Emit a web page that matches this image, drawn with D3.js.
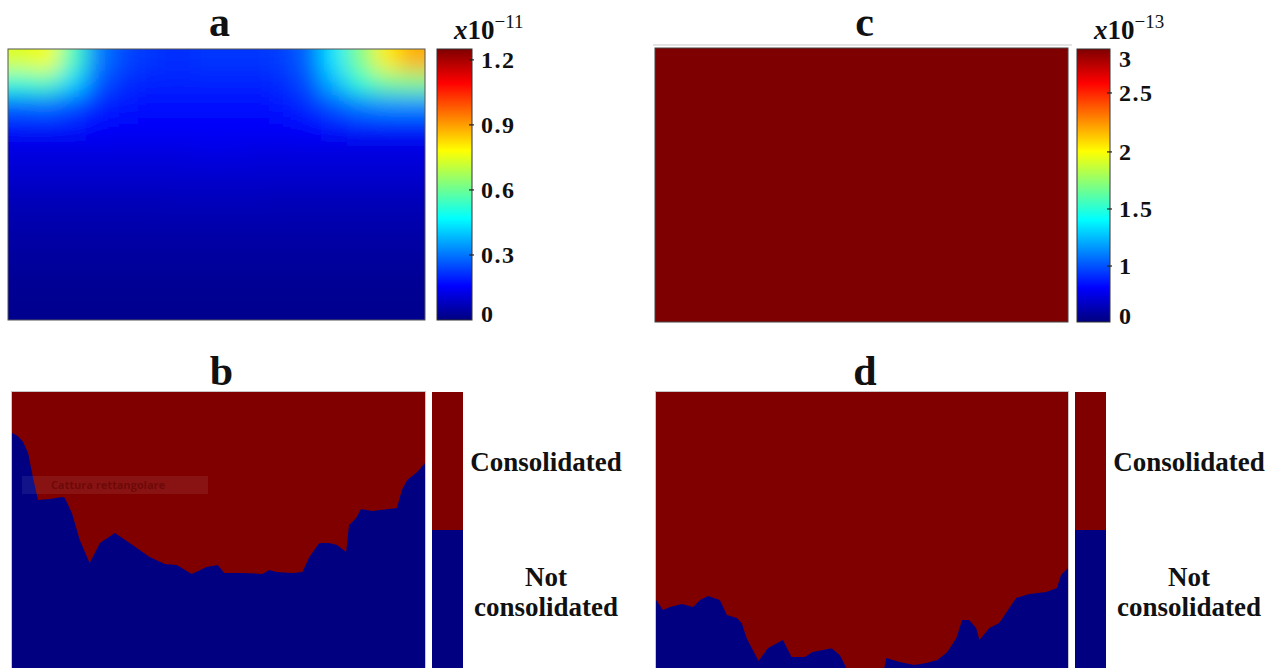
<!DOCTYPE html>
<html>
<head>
<meta charset="utf-8">
<script src="https://cdn.jsdelivr.net/npm/d3@7"></script>
<style>
  body { margin: 0; background: #fff; }
  svg text { font-family: "Liberation Serif", "DejaVu Serif", serif; font-weight: bold; fill: #111; }
</style>
</head>
<body>
<script>
// ---- data ----
// panel a: field values (x1e-11), rows top -> bottom, columns left -> right
const aGrid = [
  [0.74, 0.77, 0.55, 0.31, 0.24, 0.22, 0.21, 0.22, 0.22, 0.22, 0.23, 0.28, 0.44, 0.62, 0.80, 0.88],
  [0.52, 0.55, 0.42, 0.26, 0.21, 0.20, 0.20, 0.20, 0.20, 0.20, 0.21, 0.25, 0.38, 0.52, 0.60, 0.62],
  [0.28, 0.29, 0.25, 0.20, 0.18, 0.17, 0.17, 0.17, 0.17, 0.17, 0.18, 0.21, 0.26, 0.31, 0.33, 0.33],
  [0.17, 0.17, 0.17, 0.16, 0.15, 0.15, 0.15, 0.15, 0.15, 0.15, 0.15, 0.16, 0.17, 0.18, 0.18, 0.18],
  [0.12, 0.12, 0.12, 0.12, 0.12, 0.12, 0.12, 0.125, 0.125, 0.12, 0.12, 0.12, 0.12, 0.12, 0.12, 0.12],
  [0.10, 0.10, 0.10, 0.10, 0.10, 0.10, 0.10, 0.10, 0.10, 0.10, 0.10, 0.10, 0.10, 0.10, 0.10, 0.10],
  [0.075, 0.075, 0.075, 0.075, 0.075, 0.075, 0.078, 0.078, 0.078, 0.078, 0.075, 0.075, 0.075, 0.075, 0.075, 0.075],
  [0.06, 0.06, 0.06, 0.06, 0.06, 0.06, 0.06, 0.06, 0.06, 0.06, 0.06, 0.06, 0.06, 0.06, 0.06, 0.06],
  [0.045, 0.045, 0.045, 0.045, 0.045, 0.045, 0.045, 0.045, 0.045, 0.045, 0.045, 0.045, 0.045, 0.045, 0.045, 0.045],
  [0.035, 0.035, 0.035, 0.035, 0.035, 0.035, 0.035, 0.035, 0.035, 0.035, 0.035, 0.035, 0.035, 0.035, 0.035, 0.035],
  [0.025, 0.025, 0.025, 0.025, 0.025, 0.025, 0.025, 0.025, 0.025, 0.025, 0.025, 0.025, 0.025, 0.025, 0.025, 0.025],
  [0.02, 0.02, 0.02, 0.02, 0.02, 0.02, 0.02, 0.02, 0.02, 0.02, 0.02, 0.02, 0.02, 0.02, 0.02, 0.02]
];
const aTicks = [0, 0.3, 0.6, 0.9, 1.2];
const aMax = 1.25;

// panel c: uniform value (x1e-13)
const cValue = 3;
const cTicks = [0, 1, 1.5, 2, 2.5, 3];

// panels b, d: boundary between consolidated (above) and not consolidated (below)
// x in % of width, depth in % of height
const bX     = [0, 1.4, 2.7, 3.9, 5.1, 6.3, 9.2, 12.1, 12.8, 14.5, 16.4, 18.8, 21.3, 24.9, 29.2, 33.3, 37.0, 39.9, 43.5, 47.1, 49.8, 51.4, 55.8, 60.6, 62.3, 64.0, 67.9, 70.3, 72.0, 74.4, 76.8, 78.7, 80.9, 81.6, 83.3, 84.5, 87.2, 91.3, 93.2, 94.4, 95.7, 98.1, 100];
const bDepth = [14.9, 15.9, 18.1, 22.1, 31.2, 39.1, 38.8, 38.0, 38.4, 43.8, 53.6, 62.0, 54.7, 51.1, 55.4, 59.8, 62.3, 62.7, 65.9, 63.4, 62.7, 65.6, 65.6, 65.9, 64.5, 65.2, 65.6, 65.2, 59.8, 54.7, 54.7, 55.4, 58.0, 48.2, 45.7, 42.4, 43.1, 42.4, 42.0, 35.5, 31.9, 29.0, 25.7];

const dX     = [0, 1.7, 3.4, 6.3, 9.0, 10.7, 12.6, 15.5, 17.2, 19.6, 20.8, 22.0, 23.5, 24.9, 27.1, 30.8, 32.9, 36.1, 38.0, 42.6, 44.6, 46.2, 55.4, 55.9, 59.1, 62.7, 65.6, 68.3, 70.7, 72.9, 74.3, 76.0, 77.7, 78.5, 80.9, 83.3, 87.4, 90.6, 94.7, 97.3, 98.3, 100];
const dDepth = [75.4, 79.0, 77.9, 76.8, 77.9, 75.4, 73.9, 75.4, 80.8, 81.9, 83.7, 89.1, 93.5, 97.5, 92.8, 89.9, 96.0, 96.0, 94.2, 92.8, 95.3, 100, 100, 96.4, 97.8, 98.9, 98.2, 97.1, 94.2, 89.1, 82.6, 82.6, 85.5, 89.9, 85.5, 83.7, 74.6, 73.2, 72.5, 71.0, 66.3, 63.8];

const states = ["Consolidated", "Not consolidated"];
const titles = ["a", "b", "c", "d"];

// ---- drawing ----
const W = 1283, H = 668;
const jetStops = [0, 0.125, 0.375, 0.625, 0.875, 1];
const jetColors = ["#00007f", "#0000ff", "#00ffff", "#ffff00", "#ff0000", "#7f0000"];
const jet = d3.scaleLinear().domain(jetStops).range(jetColors).clamp(true);
const stateColor = d3.scaleOrdinal().domain(states).range(["#800000", "#000080"]);

const svg = d3.select("body").append("svg")
  .attr("width", W).attr("height", H);
const defs = svg.append("defs");

const grad = defs.append("linearGradient").attr("id", "jetGrad")
  .attr("x1", 0).attr("y1", 1).attr("x2", 0).attr("y2", 0);
jetStops.forEach((s, i) => grad.append("stop").attr("offset", s).attr("stop-color", jetColors[i]));

// --- panel a (heatmap) ---
const A = {x: 8, y: 49, w: 417, h: 271};
defs.append("clipPath").attr("id", "clipA").append("rect")
  .attr("x", A.x).attr("y", A.y).attr("width", A.w).attr("height", A.h);
defs.append("filter").attr("id", "blurA")
  .attr("filterUnits", "userSpaceOnUse")
  .attr("x", A.x - 60).attr("y", A.y - 60).attr("width", A.w + 120).attr("height", A.h + 120)
  .append("feGaussianBlur").attr("stdDeviation", 11);

const nRow = aGrid.length, nCol = aGrid[0].length;
const ax = d3.scaleBand().domain(d3.range(nCol)).range([A.x, A.x + A.w]);
const ay = d3.scaleBand().domain(d3.range(nRow)).range([A.y, A.y + A.h]);
const aColor = v => jet(v / aMax);
const pad = 40;

const cells = [];
aGrid.forEach((row, r) => row.forEach((v, c) => cells.push({r, c, v})));
svg.append("g").attr("clip-path", "url(#clipA)")
  .append("g").attr("filter", "url(#blurA)")
  .selectAll("rect").data(cells).enter().append("rect")
  .attr("x", d => ax(d.c) - (d.c === 0 ? pad : 0))
  .attr("y", d => ay(d.r) - (d.r === 0 ? pad : 0))
  .attr("width", d => ax.bandwidth() + 0.6 + (d.c === 0 || d.c === nCol - 1 ? pad : 0))
  .attr("height", d => ay.bandwidth() + 0.6 + (d.r === 0 || d.r === nRow - 1 ? pad : 0))
  .attr("fill", d => aColor(d.v));
svg.append("rect").attr("x", A.x).attr("y", A.y).attr("width", A.w).attr("height", A.h)
  .attr("fill", "none").attr("stroke", "#555").attr("stroke-width", 1);

function colorbar(cb, scale, ticks, labels, expo) {
  svg.append("rect").attr("x", cb.x).attr("y", cb.y).attr("width", cb.w).attr("height", cb.h)
    .attr("fill", "url(#jetGrad)").attr("stroke", "#333").attr("stroke-width", 1);
  const inner = ticks.filter(t => scale(t) > cb.y + 3 && scale(t) < cb.y + cb.h - 3);
  svg.append("g").selectAll("line").data(inner).enter().append("line")
    .attr("x1", cb.x + cb.w - 3).attr("x2", cb.x + cb.w + 2)
    .attr("y1", d => scale(d)).attr("y2", d => scale(d))
    .attr("stroke", "#222").attr("stroke-width", 1.2);
  svg.append("g").selectAll("text").data(ticks).enter().append("text")
    .attr("x", cb.x + cb.w + 9)
    .attr("y", d => Math.min(Math.max(scale(d), cb.y + 10), cb.y + cb.h - 6))
    .attr("dominant-baseline", "central")
    .attr("font-size", 24).attr("letter-spacing", 1.5)
    .text((d, i) => labels[i]);
  const t = svg.append("text").attr("x", cb.x + 17).attr("y", cb.y - 10).attr("font-size", 27);
  t.append("tspan").attr("font-style", "italic").text("x");
  t.append("tspan").text("10");
  t.append("tspan").attr("font-size", 19).attr("font-weight", "normal").attr("dy", -11).text(expo);
}

const CBA = {x: 437, y: 49, w: 35, h: 271};
const aScale = d3.scaleLinear().domain([0, aMax]).range([CBA.y + CBA.h, CBA.y]);
colorbar(CBA, aScale, aTicks, aTicks.map(d => d === 0 ? "0" : d3.format(".1f")(d)), "\u221211");

// --- panel c ---
const C = {x: 655, y: 48, w: 413, h: 274};
const CBC = {x: 1077, y: 49, w: 33, h: 273};
const cFrac = d3.scaleLinear().domain(cTicks).range([0, 0.205, 0.414, 0.623, 0.839, 1]);
const cScale = v => CBC.y + CBC.h * (1 - cFrac(v));
svg.append("rect").attr("x", C.x).attr("y", C.y).attr("width", C.w).attr("height", C.h)
  .attr("fill", jet(cFrac(cValue))).attr("stroke", "#444").attr("stroke-width", 1);
svg.append("line").attr("x1", C.x - 2).attr("x2", C.x + C.w + 4).attr("y1", C.y - 3).attr("y2", C.y - 3)
  .attr("stroke", "#e4e4e4").attr("stroke-width", 2);
colorbar(CBC, cScale, cTicks, cTicks.map(String), "\u221213");

// --- panels b, d ---
function statePanel(P, L, xs, ds) {
  const x = d3.scaleLinear().domain([0, 100]).range([P.x, P.x + P.w]);
  const y = d3.scaleLinear().domain([0, 100]).range([P.y, P.y + P.h]);
  const pts = xs.map((v, i) => [v, ds[i]]);
  svg.append("rect").attr("x", P.x).attr("y", P.y).attr("width", P.w).attr("height", P.h)
    .attr("fill", stateColor(states[0]));
  const area = d3.area().x(d => x(d[0])).y0(P.y + P.h).y1(d => y(d[1]));
  svg.append("path").datum(pts).attr("d", area).attr("fill", stateColor(states[1]));
  svg.append("rect").attr("x", P.x - 0.5).attr("y", P.y - 0.5).attr("width", P.w + 1).attr("height", P.h + 1)
    .attr("fill", "none").attr("stroke", "#c8c8c8").attr("stroke-width", 1);

  // legend bar
  const ly = d3.scaleBand().domain(states).range([L.y, L.y + L.h]);
  svg.append("g").selectAll("rect").data(states).enter().append("rect")
    .attr("x", L.x).attr("y", d => ly(d)).attr("width", L.w).attr("height", ly.bandwidth())
    .attr("fill", d => stateColor(d));
  const cx = L.x + L.w + 83;
  svg.append("text").attr("x", cx).attr("y", ly(states[0]) + ly.bandwidth() / 2 + 10)
    .attr("text-anchor", "middle").attr("font-size", 27).text(states[0]);
  const words = states[1].split(" ");
  svg.append("text").attr("x", cx).attr("y", ly(states[1]) + ly.bandwidth() / 2 - 13)
    .attr("text-anchor", "middle").attr("font-size", 27).text(words[0]);
  svg.append("text").attr("x", cx).attr("y", ly(states[1]) + ly.bandwidth() / 2 + 17)
    .attr("text-anchor", "middle").attr("font-size", 27).text(words[1]);
}

const B = {x: 12, y: 392, w: 413, h: 276};
const LB = {x: 432, y: 392, w: 31, h: 276};
const D = {x: 656, y: 392, w: 412, h: 276};
const LD = {x: 1075, y: 392, w: 31, h: 276};
statePanel(B, LB, bX, bDepth);
statePanel(D, LD, dX, dDepth);

// screen-capture overlay visible in panel b
svg.append("rect").attr("x", 22).attr("y", 476).attr("width", 186).attr("height", 18)
  .attr("fill", "#fff").attr("opacity", 0.07);
svg.append("text").attr("x", 51).attr("y", 489).attr("font-size", 11)
  .attr("font-weight", "normal").style("font-family", "'Open Sans', sans-serif")
  .style("fill", "#4a0000").attr("opacity", 0.45).text("Cattura rettangolare");

// titles
const panels = [A, B, C, D];
svg.append("g").selectAll("text").data(titles).enter().append("text")
  .attr("x", (d, i) => panels[i].x + panels[i].w / 2 + 3)
  .attr("y", (d, i) => i % 2 === 0 ? 36 : 385)
  .attr("text-anchor", "middle").attr("font-size", 42)
  .text(d => d);
</script>
</body>
</html>
